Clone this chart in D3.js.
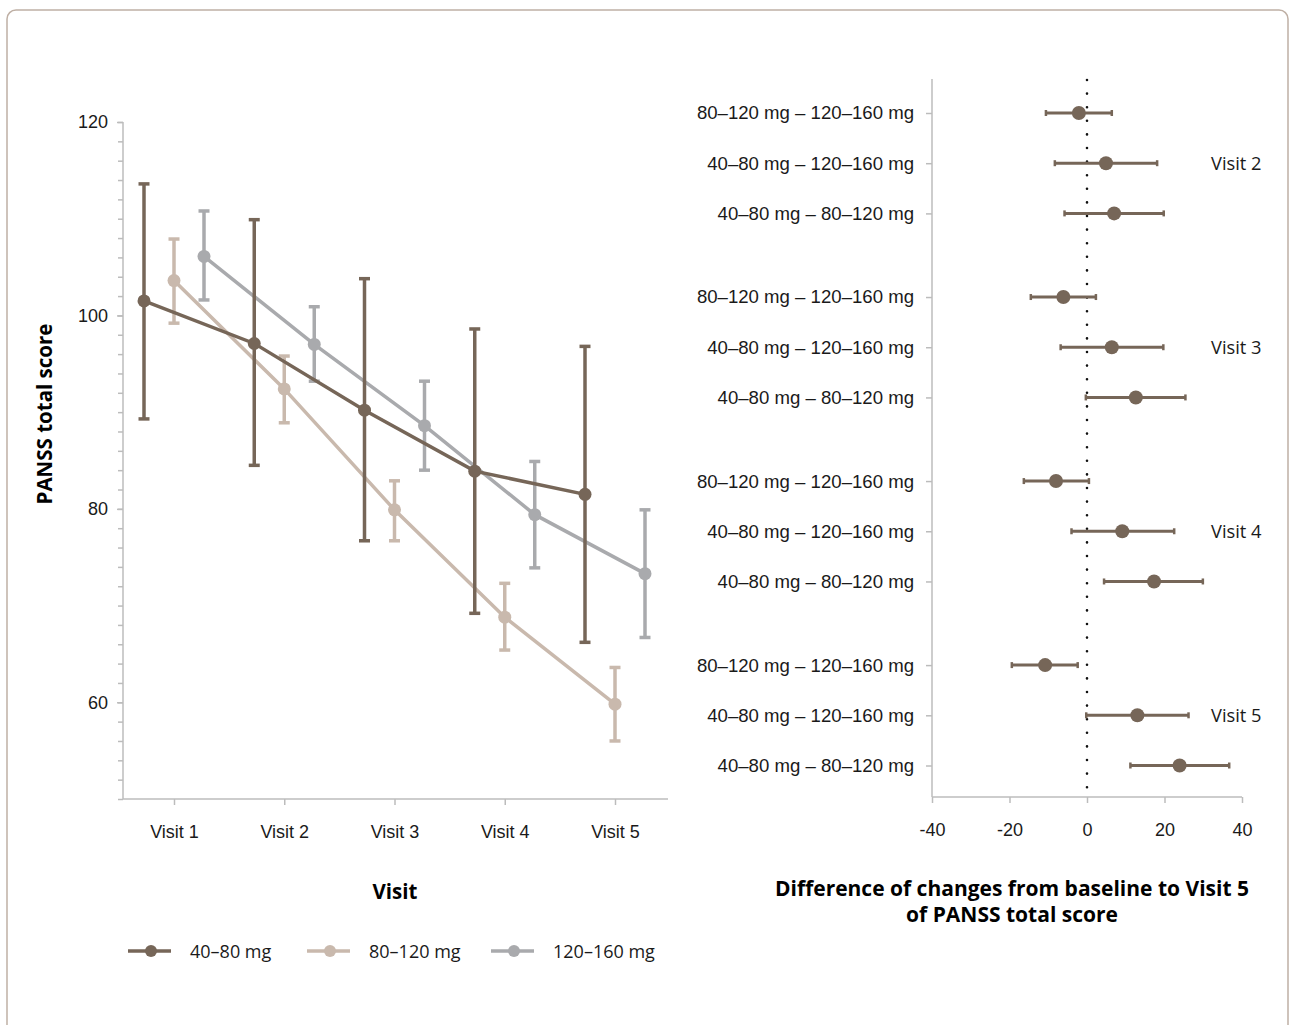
<!DOCTYPE html>
<html>
<head>
<meta charset="utf-8">
<script src="https://cdn.jsdelivr.net/npm/d3@7"></script>
<style>
  body { margin: 0; background: #fff; }
  svg { font-family: 'Open Sans', 'Noto Sans', sans-serif; }
  .axis path, .axis line { stroke: #bcbcbc; stroke-width: 1.5; }
  .axis text { fill: #1a1a1a; font-size: 18px; }
  .rows text { font-size: 18.6px; }
</style>
</head>
<body>
<svg class="chart"></svg>
<script>
// --- data: PANSS total score by visit (mean with error bar) ---
const visits = ['Visit 1', 'Visit 2', 'Visit 3', 'Visit 4', 'Visit 5']
const doses = ['40–80 mg', '80–120 mg', '120–160 mg']
const doseColors = ['#766658', '#c9b9ad', '#a9aaad']

const mean40 = [101.5, 97.1, 90.2, 83.9, 81.5]
const upper40 = [113.6, 109.9, 103.8, 98.6, 96.8]
const lower40 = [89.3, 84.5, 76.7, 69.2, 66.2]

const mean80 = [103.6, 92.4, 79.9, 68.8, 59.8]
const upper80 = [107.9, 95.8, 82.9, 72.3, 63.6]
const lower80 = [99.2, 88.9, 76.7, 65.4, 56.0]

const mean120 = [106.1, 97.0, 88.6, 79.4, 73.3]
const upper120 = [110.8, 100.9, 93.2, 84.9, 79.9]
const lower120 = [101.6, 93.2, 84.0, 73.9, 66.7]

// --- data: differences of change to visit, estimate with interval ---
const compVisits = ['Visit 2', 'Visit 3', 'Visit 4', 'Visit 5']
const comparisons = ['80–120 mg – 120–160 mg', '40–80 mg – 120–160 mg', '40–80 mg – 80–120 mg']
const diffEst = [
  [-2.1, 4.9, 7.0],
  [-6.1, 6.4, 12.6],
  [-8.0, 9.1, 17.3],
  [-10.8, 13.0, 23.9]
]
const diffLow = [
  [-10.6, -8.3, -5.8],
  [-14.5, -6.8, -0.3],
  [-16.3, -4.0, 4.4],
  [-19.4, -0.2, 11.2]
]
const diffHigh = [
  [6.4, 18.1, 19.8],
  [2.3, 19.7, 25.4],
  [0.5, 22.5, 29.9],
  [-2.4, 26.2, 36.7]
]

const width = 1289
const height = 1025

const chart = d3.select('.chart')
  .attr('width', width)
  .attr('height', height)

chart.append('rect')
  .attr('x', 7).attr('y', 10)
  .attr('width', 1281).attr('height', 1040)
  .attr('rx', 9)
  .attr('fill', 'none')
  .attr('stroke', '#bfb0a5')
  .attr('stroke-width', 1.5)

// ================= left panel =================
const series = [
  { name: doses[0], color: doseColors[0], mean: mean40, upper: upper40, lower: lower40, shift: -30 },
  { name: doses[1], color: doseColors[1], mean: mean80, upper: upper80, lower: lower80, shift: 0 },
  { name: doses[2], color: doseColors[2], mean: mean120, upper: upper120, lower: lower120, shift: 30 }
]

const xVisit = d3.scalePoint().domain(visits).range([174, 615])
const yScore = d3.scaleLinear().domain([50, 120]).range([799, 122])

// y axis: major ticks every 20, minor every 2
chart.append('g').attr('class', 'axis')
  .attr('transform', 'translate(123,0)')
  .call(d3.axisLeft(yScore).tickValues(d3.range(50, 121, 2)).tickSize(5).tickFormat(''))
  .call(g => g.select('.domain').attr('d', `M0,${yScore(120)}V${yScore(50)}`))

chart.append('g').attr('class', 'axis')
  .attr('transform', 'translate(123,0)')
  .call(d3.axisLeft(yScore).tickValues([60, 80, 100, 120]).tickSize(6).tickPadding(9))
  .call(g => g.select('.domain').remove())

chart.append('g').attr('class', 'axis')
  .attr('transform', `translate(0,${yScore(50)})`)
  .call(d3.axisBottom(xVisit).tickSize(6).tickPadding(20))
  .call(g => g.select('.domain').attr('d', 'M123,0H668'))

chart.append('text')
  .attr('transform', 'translate(52,414) rotate(-90)')
  .attr('text-anchor', 'middle')
  .attr('font-size', 20.5).attr('font-weight', 'bold')
  .text('PANSS total score')

chart.append('text')
  .attr('x', 395).attr('y', 899)
  .attr('text-anchor', 'middle')
  .attr('font-size', 20.5).attr('font-weight', 'bold')
  .text('Visit')

const line = d3.line()

// draw order: grey, beige, brown on top
for (const s of [series[2], series[1], series[0]]) {
  const g = chart.append('g')
  const px = i => xVisit(visits[i]) + s.shift
  g.append('path')
    .attr('d', line(s.mean.map((v, i) => [px(i), yScore(v)])))
    .attr('fill', 'none')
    .attr('stroke', s.color)
    .attr('stroke-width', 3.5)
  visits.forEach((v, i) => {
    g.append('line')
      .attr('x1', px(i)).attr('x2', px(i))
      .attr('y1', yScore(s.upper[i])).attr('y2', yScore(s.lower[i]))
      .attr('stroke', s.color).attr('stroke-width', 3.5)
    for (const end of [s.upper[i], s.lower[i]]) {
      g.append('line')
        .attr('x1', px(i) - 5.5).attr('x2', px(i) + 5.5)
        .attr('y1', yScore(end)).attr('y2', yScore(end))
        .attr('stroke', s.color).attr('stroke-width', 3.5)
    }
    g.append('circle')
      .attr('cx', px(i)).attr('cy', yScore(s.mean[i]))
      .attr('r', 6.5)
      .attr('fill', s.color)
  })
}

// legend
const legendX = [128, 307, 491]
series.forEach((s, i) => {
  const g = chart.append('g').attr('transform', `translate(${legendX[i]},951)`)
  g.append('line').attr('x1', 0).attr('x2', 43).attr('stroke', s.color).attr('stroke-width', 3.5)
  g.append('circle').attr('cx', 23).attr('r', 6).attr('fill', s.color)
  g.append('text').attr('x', 62).attr('y', 6.5)
    .attr('font-size', 18).attr('fill', '#1a1a1a')
    .text(s.name)
})

// ================= right panel =================
const xDiff = d3.scaleLinear().domain([-40, 40]).range([932, 1242])
const groupStep = 3 + 0.666
const yRow = d3.scaleLinear().domain([0, 1]).range([113, 163.2])
const rowPos = (g, r) => g * groupStep + r

const rows = []
compVisits.forEach((v, g) => {
  comparisons.forEach((c, r) => {
    rows.push({ g, r, visit: v, label: c, est: diffEst[g][r], lo: diffLow[g][r], hi: diffHigh[g][r] })
  })
})

chart.append('g').attr('class', 'axis rows')
  .attr('transform', 'translate(932,0)')
  .call(d3.axisLeft(yRow)
    .tickValues(rows.map(d => rowPos(d.g, d.r)))
    .tickSize(6).tickPadding(12)
    .tickFormat((d, i) => rows[i].label))
  .call(g => g.select('.domain').attr('d', 'M0,79V797'))

chart.append('g').attr('class', 'axis')
  .attr('transform', 'translate(0,797)')
  .call(d3.axisBottom(xDiff).tickValues([-40, -20, 0, 20, 40])
    .tickFormat(d => String(d)).tickSize(6).tickPadding(20))
  .call(g => g.select('.domain').attr('d', `M${xDiff(-40)},0H${xDiff(40)}`))

chart.append('line')
  .attr('x1', xDiff(0)).attr('x2', xDiff(0))
  .attr('y1', 80).attr('y2', 792)
  .attr('stroke', '#111')
  .attr('stroke-width', 2.6)
  .attr('stroke-linecap', 'round')
  .attr('stroke-dasharray', '0,13.6')

const markColor = '#766658'
const forest = chart.append('g')
for (const d of rows) {
  const y = yRow(rowPos(d.g, d.r))
  forest.append('line')
    .attr('x1', xDiff(d.lo)).attr('x2', xDiff(d.hi))
    .attr('y1', y).attr('y2', y)
    .attr('stroke', markColor).attr('stroke-width', 3)
  for (const end of [d.lo, d.hi]) {
    forest.append('line')
      .attr('x1', xDiff(end)).attr('x2', xDiff(end))
      .attr('y1', y - 3).attr('y2', y + 3)
      .attr('stroke', markColor).attr('stroke-width', 2.5)
  }
  forest.append('circle')
    .attr('cx', xDiff(d.est)).attr('cy', y)
    .attr('r', 7)
    .attr('fill', markColor)
}

compVisits.forEach((v, g) => {
  chart.append('text')
    .attr('x', 1211).attr('y', yRow(rowPos(g, 1)) + 6.5)
    .attr('font-size', 18.3).attr('fill', '#1a1a1a')
    .text(v)
})

chart.append('text')
  .attr('x', 1012).attr('y', 896)
  .attr('text-anchor', 'middle')
  .attr('font-size', 21).attr('font-weight', 'bold')
  .selectAll('tspan')
  .data(['Difference of changes from baseline to Visit 5', 'of PANSS total score'])
  .enter()
  .append('tspan')
  .attr('x', 1012)
  .attr('dy', (d, i) => i === 0 ? 0 : 26)
  .text(d => d)
</script>
</body>
</html>
